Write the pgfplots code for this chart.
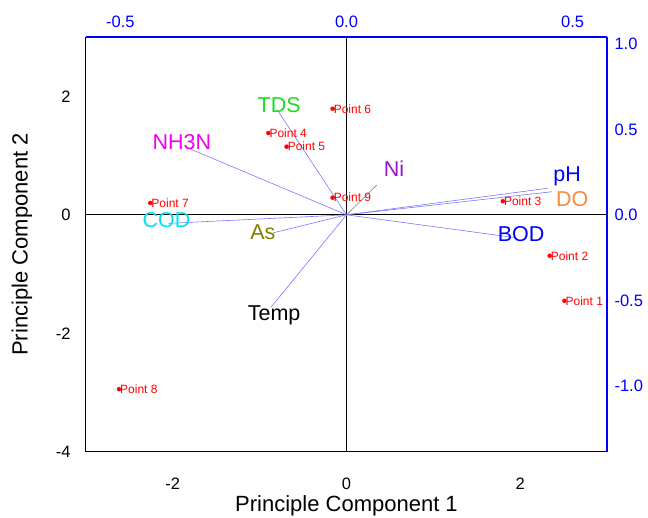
\documentclass[border=0pt]{standalone}
\usepackage{pgfplots}
\pgfplotsset{compat=1.18}
\usepackage{pgfplotstable}
\usepackage{fontspec}
\setmainfont{Liberation Sans}

\definecolor{tdsgreen}{RGB}{30,220,30}
\definecolor{nhmag}{RGB}{240,0,240}
\definecolor{codcyan}{RGB}{0,225,240}
\definecolor{asolive}{RGB}{128,128,0}
\definecolor{nipurple}{RGB}{150,20,200}
\definecolor{doorange}{RGB}{245,140,60}
\definecolor{loadline}{RGB}{120,120,255}

% scores (principal component 1, 2)
\pgfplotstableread[col sep=comma]{
x,y,name
2.51,-1.45,Point 1
2.34,-0.69,Point 2
1.80,0.23,Point 3
-0.90,1.38,Point 4
-0.69,1.15,Point 5
-0.16,1.79,Point 6
-2.26,0.20,Point 7
-2.62,-2.94,Point 8
-0.16,0.29,Point 9
}\scores

\begin{document}
\begin{tikzpicture}
% loadings axis (top / right, blue)
\begin{axis}[
    name=load,
    scale only axis,
    width=521pt, height=415pt,
    xmin=-0.576, xmax=0.576,
    ymin=-1.387, ymax=1.04,
    axis x line*=top, axis y line*=right,
    axis line style={-, blue, line width=1.3pt},
    xtick={-0.5,0,0.5}, ytick={-1,-0.5,0,0.5,1},
    tick style={draw=none},
    ticklabel style={blue, font=\fontsize{16.5}{18}\selectfont},
    /pgf/number format/assume math mode=true,
    /pgf/number format/.cd, fixed, fixed zerofill, precision=1,
    /pgfplots/.cd,
    xticklabel shift=6pt,
    yticklabel shift=4pt,
    clip=false,
]
\draw[black, line width=1.2pt] (axis cs:0,-1.387) -- (axis cs:0,1.04);
\draw[black, line width=1.2pt] (axis cs:-0.576,0) -- (axis cs:0.576,0);
\addplot[loadline, line width=0.6pt] coordinates {(0,0) (-0.154,0.617)}; % TDS
\addplot[loadline, line width=0.6pt] coordinates {(0,0) (-0.357,0.398)}; % NH3N
\addplot[loadline, line width=0.6pt] coordinates {(0,0) (-0.394,-0.050)}; % COD
\addplot[loadline, line width=0.6pt] coordinates {(0,0) (-0.162,-0.105)}; % As
\addplot[loadline, line width=0.6pt] coordinates {(0,0) (-0.167,-0.541)}; % Temp
\addplot[gray, line width=0.6pt] coordinates {(0,0) (0.067,0.174)}; % Ni
\addplot[loadline, line width=0.6pt] coordinates {(0,0) (0.444,0.155)}; % pH
\addplot[loadline, line width=0.6pt] coordinates {(0,0) (0.454,0.135)}; % DO
\addplot[loadline, line width=0.6pt] coordinates {(0,0) (0.369,-0.132)}; % BOD
\begin{scope}[font=\fontsize{21.5}{24}\selectfont]
\node[tdsgreen] at (axis cs:-0.149,0.642) {TDS};
\node[nhmag] at (axis cs:-0.364,0.426) {NH3N};
\node[codcyan] at (axis cs:-0.398,-0.030) {COD};
\node[asolive] at (axis cs:-0.185,-0.101) {As};
\node[black] at (axis cs:-0.160,-0.586) {Temp};
\node[nipurple] at (axis cs:0.105,0.268) {Ni};
\node[blue] at (axis cs:0.488,0.227) {pH};
\node[doorange] at (axis cs:0.499,0.092) {DO};
\node[blue] at (axis cs:0.386,-0.112) {BOD};
\end{scope}
\end{axis}

% scores axis (bottom / left, black)
\begin{axis}[
    name=main,
    scale only axis,
    width=521pt, height=415pt,
    xmin=-3, xmax=3, ymin=-4, ymax=3,
    axis x line*=bottom, axis y line*=left,
    axis line style={-, black, line width=1pt},
    xtick={-2,0,2}, ytick={-4,-2,0,2},
    tick style={draw=none},
    ticklabel style={font=\fontsize{16.5}{18}\selectfont},
    /pgf/number format/assume math mode=true,
    xticklabel shift=22pt,
    yticklabel shift=12pt,
    xlabel={Principle Component 1},
    ylabel={Principle Component 2},
    label style={font=\fontsize{22}{24}\selectfont},
    xlabel style={at={(axis description cs:0.5,-0.130)}, anchor=center},
    ylabel style={at={(axis description cs:-0.123,0.5)}, anchor=center},
    clip=false,
]
\addplot[only marks, mark=*, red, mark size=2pt,
    nodes near coords, point meta=explicit symbolic,
    nodes near coords style={anchor=west, red, inner sep=1pt,
        font=\fontsize{12}{14}\selectfont}]
    table[x=x, y=y, meta=name] {\scores};
\end{axis}

\pgfresetboundingbox
\path (main.south west) ++(-86pt,-66pt) (main.north east) ++(41pt,37pt);
\end{tikzpicture}
\end{document}
